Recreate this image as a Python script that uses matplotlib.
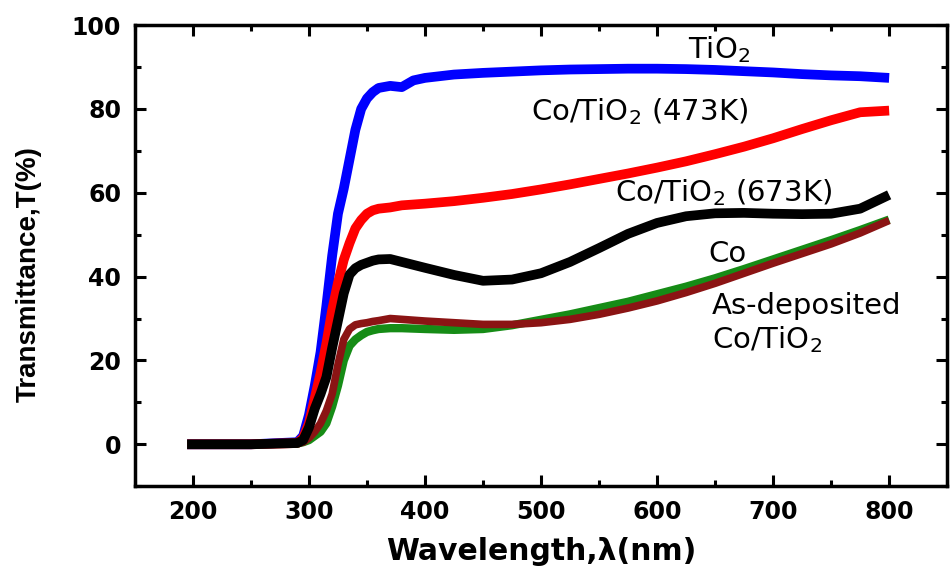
import matplotlib
matplotlib.use("Agg")
import matplotlib.pyplot as plt
from matplotlib.ticker import MultipleLocator

# Wellenlaengen (nm), gemeinsam fuer alle Kurven
wellenlaenge = [195, 250, 290, 295, 300, 305, 310, 315, 320, 325, 330, 335, 340, 345, 350, 355,
                360, 370, 380, 390, 400, 425, 450, 475, 500, 525, 550, 575, 600, 625, 650, 675,
                700, 725, 750, 775, 800]

# Transmission in %
tio2 = [0, 0, 0.5, 2, 7, 14, 22, 33, 45, 55, 61, 68, 75, 80, 82.5, 84,
        85, 85.5, 85.2, 86.8, 87.4, 88.2, 88.6, 88.9, 89.2, 89.4, 89.5, 89.6, 89.6, 89.5, 89.3, 89.0,
        88.7, 88.3, 88.0, 87.8, 87.4]
co_tio2_473 = [0, 0, 0.3, 1.5, 5, 11, 17, 24, 32, 38.5, 44, 48, 51.5, 53.5, 55, 55.8,
               56.2, 56.5, 57, 57.2, 57.4, 58, 58.8, 59.7, 60.8, 62, 63.3, 64.6, 66, 67.5, 69.2, 71,
               73, 75.2, 77.3, 79.2, 79.6]
co_tio2_673 = [0, 0, 0.3, 1, 4, 8.5, 12, 16, 23, 29.5, 36, 40.5, 42, 42.8, 43.3, 43.8,
               44.1, 44.2, 43.5, 42.8, 42.1, 40.4, 39.0, 39.3, 40.8, 43.5, 46.8, 50.2, 52.8, 54.4, 55.1, 55.2,
               55.0, 54.9, 55.0, 56.2, 59.5]
co = [0, 0, 0.2, 0.5, 1, 2, 3, 5, 9, 14, 20, 23.5, 25, 26, 26.8, 27.2,
      27.5, 27.7, 27.7, 27.6, 27.5, 27.3, 27.5, 28.4, 29.7, 31.0, 32.5, 34.0, 35.8, 37.6, 39.6, 41.8,
      44.1, 46.4, 48.7, 51.1, 53.6]
as_deposited = [0, 0, 0.2, 0.5, 1.5, 3, 5, 8, 12, 19, 25, 27.5, 28.5, 28.8, 29, 29.3,
                29.5, 30, 29.8, 29.6, 29.4, 29, 28.6, 28.6, 29, 29.8, 31, 32.5, 34.2, 36.2, 38.4, 40.8,
                43.2, 45.5, 47.8, 50.4, 53.4]

fig = plt.figure(figsize=(9.5, 5.7), dpi=100)
ax = fig.add_axes([0.142, 0.147, 0.855, 0.809])

ax.plot(wellenlaenge, tio2, color='blue', lw=7, solid_capstyle='butt')
ax.plot(wellenlaenge, co_tio2_473, color='red', lw=7, solid_capstyle='butt')
ax.plot(wellenlaenge, co, color='#168c16', lw=6, solid_capstyle='butt')
ax.plot(wellenlaenge, as_deposited, color='#8b1414', lw=5.5, solid_capstyle='butt')
ax.plot(wellenlaenge, co_tio2_673, color='black', lw=7, solid_capstyle='butt')

ax.set_xlim(150, 850)
ax.set_ylim(-10, 100)
ax.xaxis.set_major_locator(MultipleLocator(100))
ax.xaxis.set_minor_locator(MultipleLocator(50))
ax.yaxis.set_major_locator(MultipleLocator(20))
ax.yaxis.set_minor_locator(MultipleLocator(10))
ax.set_yticks([0, 20, 40, 60, 80, 100])

for s in ax.spines.values():
    s.set_linewidth(2.5)
ax.tick_params(which='both', direction='in', top=True, right=True, width=2.2)
ax.tick_params(which='major', length=8, pad=10)
ax.tick_params(which='minor', length=4.5)
for lab in ax.get_xticklabels() + ax.get_yticklabels():
    lab.set_fontfamily('DejaVu Sans')
    lab.set_fontweight('bold')
    lab.set_fontsize(17)

ax.set_xlabel('Wavelength,λ(nm)', family='DejaVu Sans', weight='bold', fontsize=21.5)
ax.set_ylabel('Transmittance,T(%)', family='Liberation Sans', weight='bold', fontsize=20)
ax.xaxis.set_label_coords(0.5, -0.11)
ax.yaxis.set_label_coords(-0.115, 0.46)

txt = dict(family='DejaVu Sans', fontsize=21, ha='left', va='baseline')
ax.text(627, 92, 'TiO$_2$', **txt)
ax.text(491, 77.4, 'Co/TiO$_2$ (473K)', **txt)
ax.text(564, 57.9, 'Co/TiO$_2$ (673K)', **txt)
ax.text(644, 43.6, 'Co', **txt)
ax.text(647, 31, 'As-deposited', **txt)
ax.text(647, 22.9, 'Co/TiO$_2$', **txt)

fig.savefig('out.png', dpi=100)
